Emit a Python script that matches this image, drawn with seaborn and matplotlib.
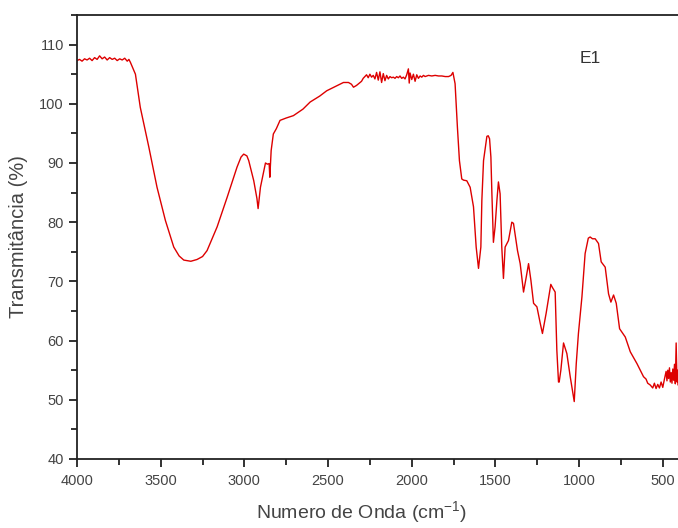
import matplotlib
matplotlib.use("Agg")
import matplotlib.pyplot as plt
import seaborn as sns
import pandas as pd
from matplotlib.ticker import MultipleLocator

# FTIR spectrum of sample E1
wavenumber = [
    4000, 3985, 3970, 3955, 3940, 3925, 3910, 3895, 3880, 3865, 3850, 3835,
    3820, 3805, 3790, 3775, 3760, 3745, 3730, 3715, 3700, 3690, 3681,
    3651, 3622, 3571, 3522, 3472, 3422, 3390, 3362, 3320, 3283, 3250, 3223,
    3163, 3103, 3044, 3020, 3004, 2985, 2974, 2944, 2925, 2918, 2904, 2874,
    2862, 2852, 2848, 2840, 2827, 2809, 2787, 2750, 2707, 2650, 2607, 2550,
    2508, 2450, 2408, 2378, 2360, 2348, 2330, 2308,
    2300, 2290, 2280, 2270, 2260, 2250, 2240, 2230, 2220, 2210, 2200, 2190,
    2180, 2170, 2160, 2150, 2140, 2130, 2120, 2110, 2100, 2090, 2080, 2070,
    2060, 2050, 2040, 2030, 2020, 2015, 2010, 2000, 1990, 1980, 1970, 1960,
    1950, 1940, 1930, 1920, 1900, 1880, 1860, 1840, 1820, 1800, 1780, 1765,
    1754, 1745, 1741, 1727, 1715, 1701, 1690, 1671, 1651, 1631, 1615, 1601,
    1587, 1581, 1571, 1551, 1543, 1535, 1527, 1521, 1512, 1502, 1491, 1482,
    1472, 1462, 1452, 1442, 1422, 1402, 1392, 1368, 1352, 1332, 1316, 1302,
    1288, 1272, 1252, 1232, 1219, 1197, 1169, 1160, 1143, 1133, 1123, 1119,
    1109, 1093, 1073, 1053, 1037, 1029, 1017, 1004, 983, 964, 945, 934, 920,
    904, 884, 868, 844, 824, 810, 794, 778, 758, 724, 694, 654, 615, 600,
    590, 575, 560, 550, 540, 530, 520, 510, 500, 490, 480, 475, 470, 465,
    460, 455, 450, 445, 440, 435, 430, 425, 420, 415, 412, 409,
]
transmittance = [
    107.3, 107.5, 107.2, 107.6, 107.4, 107.7, 107.3, 107.8, 107.5, 108.1, 107.6, 107.9,
    107.4, 107.8, 107.5, 107.7, 107.3, 107.6, 107.4, 107.7, 107.2, 107.5, 107.0,
    105.0, 99.4, 92.7, 85.9, 80.3, 75.8, 74.3, 73.6, 73.4, 73.7, 74.2, 75.2,
    79.2, 84.2, 89.3, 91.0, 91.5, 91.2, 90.4, 87.0, 84.0, 82.3, 85.9, 90.0,
    89.8, 89.9, 87.6, 92.1, 94.9, 95.8, 97.2, 97.6, 98.0, 99.1, 100.3, 101.3,
    102.2, 103.0, 103.6, 103.6, 103.3, 102.8, 103.1, 103.6,
    103.8, 104.3, 104.6, 104.9, 104.4, 105.0, 104.5, 104.8, 104.2, 105.3, 104.0, 105.4,
    103.6, 105.1, 103.9, 104.8, 104.2, 104.6, 104.4, 104.5, 104.3, 104.6, 104.4, 104.7,
    104.3, 104.5, 104.2, 104.9, 105.9, 103.5, 105.2, 104.1, 105.0, 103.8, 104.9, 104.3,
    104.7, 104.5, 104.8, 104.6, 104.8, 104.7, 104.8, 104.7, 104.7, 104.6, 104.6, 104.8,
    105.3, 104.0, 103.4, 96.0, 90.4, 87.3, 87.1, 87.0, 85.9, 82.6, 75.8, 72.2,
    75.8, 83.7, 90.4, 94.5, 94.6, 94.1, 91.0, 84.8, 76.6, 79.2, 83.7, 86.8,
    84.8, 75.8, 70.5, 75.8, 76.9, 80.0, 79.8, 75.2, 73.0, 68.2, 70.7, 73.0,
    70.2, 66.3, 65.7, 62.9, 61.2, 64.6, 69.5, 69.0, 68.2, 58.4, 53.0, 53.0,
    55.0, 59.6, 57.8, 53.9, 51.1, 49.7, 56.1, 61.2, 67.4, 74.7, 77.3, 77.5, 77.2,
    77.2, 76.4, 73.3, 72.4, 67.9, 66.5, 67.7, 66.3, 62.0, 60.6, 58.1, 56.1, 53.9, 53.5,
    52.8, 52.5, 52.0, 52.8, 51.9, 52.6, 52.0, 53.0, 52.1, 53.5, 54.8, 53.2, 55.0, 53.6,
    55.4, 53.0, 54.6, 52.8, 55.2, 53.3, 56.0, 52.7, 59.6, 53.0, 55.0, 52.5,
]

df = pd.DataFrame({"wave": wavenumber, "T": transmittance})

sns.set_style("ticks")
plt.rcParams["font.family"] = ["Liberation Sans", "DejaVu Sans"]
plt.rcParams["mathtext.fontset"] = "custom"
plt.rcParams["mathtext.rm"] = "Liberation Sans"
plt.rcParams["mathtext.it"] = "Liberation Sans"

fig = plt.figure(figsize=(6.78, 5.28), dpi=100)
ax = fig.add_axes([0.1136, 0.1307, 0.8864, 0.8409])

sns.lineplot(data=df, x="wave", y="T", sort=False, color="#dd0000",
             linewidth=1.0, ax=ax)

ax.set_xlim(4000, 409)
ax.set_ylim(40, 115)
ax.xaxis.set_major_locator(MultipleLocator(500))
ax.xaxis.set_minor_locator(MultipleLocator(250))
ax.yaxis.set_minor_locator(MultipleLocator(5))
ax.set_yticks([40, 50, 60, 70, 80, 90, 100, 110])

ax.spines["right"].set_visible(False)
for s in ["left", "bottom", "top"]:
    ax.spines[s].set_linewidth(1.3)
    ax.spines[s].set_color("#222222")

ax.tick_params(which="major", direction="out", length=6, width=1.3,
               labelsize=10.5, colors="#222222", labelcolor="#444444")
ax.tick_params(axis="x", which="major", pad=5)
ax.tick_params(which="minor", direction="out", length=4, width=1.3,
               colors="#222222")

ax.set_xlabel("Numero de Onda (cm$^{-1}$)", fontsize=14, color="#444444",
              va="center")
ax.xaxis.set_label_coords(0.474, -0.12)
ax.set_ylabel("Transmitância (%)", fontsize=14.5, color="#444444", labelpad=8)

ax.text(935, 107.6, "E1", ha="center", va="center", fontsize=12.5,
        color="#333333")

fig.savefig("out.png", dpi=100)
